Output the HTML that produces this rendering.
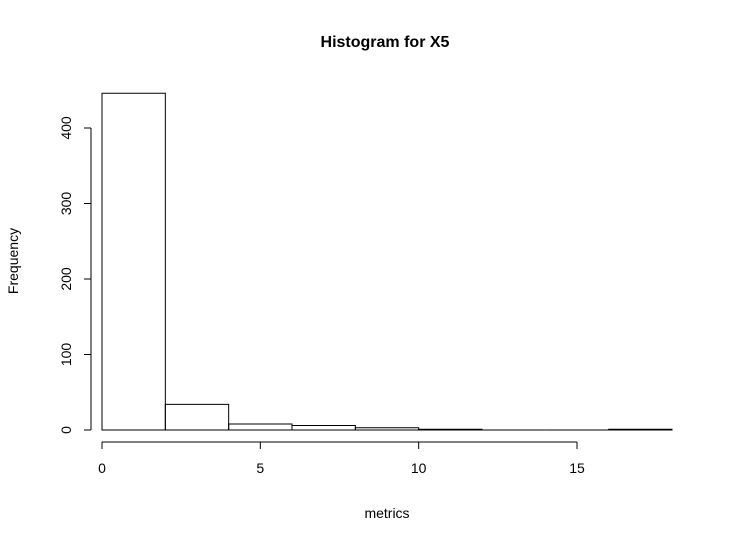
<!DOCTYPE html>
<html><head><meta charset="utf-8"><style>body{margin:0;background:#fff}svg{font-family:"Liberation Sans",Arial,sans-serif}</style></head>
<body>
<svg id="c" width="737" height="542">
<text x="385" y="47" text-anchor="middle" font-size="16" font-weight="bold">Histogram for X5</text>
<text x="387" y="518" text-anchor="middle" font-size="14">metrics</text>
<text transform="translate(18,261) rotate(-90)" text-anchor="middle" font-size="14">Frequency</text>
<g id="bars"></g><g id="xa"></g><g id="ya"></g>
</svg>
<script>
const binStarts=[0,2,4,6,8,10,12,14,16];
const counts=[446,34,8,6,3,1,0,0,1];
const binWidth=2;
const xTicks=[0,5,10,15];
const yTicks=[0,100,200,300,400];
const NS="http://www.w3.org/2000/svg";
const xs=v=>102+v*(475/15);
const ys=v=>430-v*0.755;
function mk(t,a,p){const e=document.createElementNS(NS,t);for(const k in a)e.setAttribute(k,a[k]);p.appendChild(e);return e;}
const bars=document.getElementById('bars');
binStarts.forEach((b,i)=>{
 const x0=xs(b),x1=xs(b+binWidth),y0=ys(0),y1=ys(counts[i]);
 const r=mk('path',{d:`M${x0},${y0}L${x0},${y1}L${x1},${y1}L${x1},${y0}Z`,fill:'none',stroke:'#000','stroke-width':1},bars);
 
 
});
const xa=document.getElementById('xa');
mk('line',{x1:xs(0),x2:xs(15),y1:442,y2:442,stroke:'#000'},xa);
xTicks.forEach(t=>{
 mk('line',{x1:xs(t),x2:xs(t),y1:442,y2:449,stroke:'#000'},xa);
 const tx=mk('text',{x:xs(t),y:473,'text-anchor':'middle','font-size':14},xa);tx.textContent=t;
 
 
});
const ya=document.getElementById('ya');
mk('line',{x1:91,x2:91,y1:ys(0),y2:ys(400),stroke:'#000'},ya);
yTicks.forEach(t=>{
 mk('line',{x1:84,x2:91,y1:ys(t),y2:ys(t),stroke:'#000'},ya);
 const tx=mk('text',{transform:`translate(71,${ys(t)}) rotate(-90)`,'text-anchor':'middle','font-size':14},ya);tx.textContent=t;
 
 
});
</script>
</body></html>
